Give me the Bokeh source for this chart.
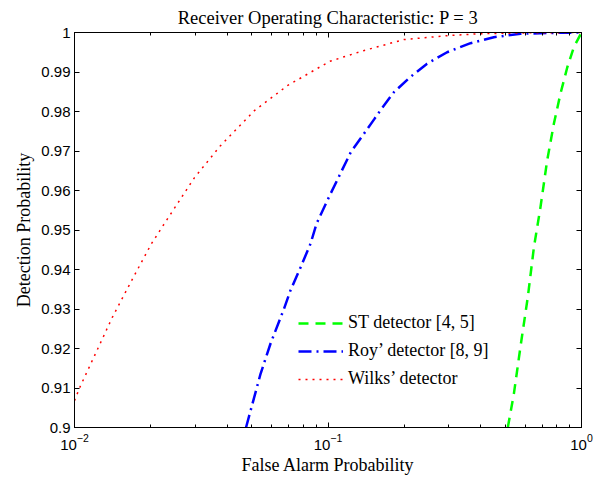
from bokeh.plotting import figure
from bokeh.models import FixedTicker, LogAxis, LinearAxis, CustomJSTickFormatter
from bokeh.embed import file_html
from bokeh.resources import INLINE

# ---------------- data ----------------
wilks_x = [0.01, 0.0105, 0.012, 0.0141, 0.0168, 0.0201, 0.0232, 0.0297, 0.0376,
           0.0512, 0.0694, 0.1016, 0.138, 0.199, 0.295, 0.40, 0.6, 1.0]
wilks_y = [0.9068, 0.9102, 0.9182, 0.9279, 0.9372, 0.9465, 0.9527, 0.9632, 0.9713,
           0.9802, 0.9866, 0.9927, 0.9954, 0.9982, 0.9992, 0.9997, 0.9999, 1.0]

roy_x = [0.0475, 0.0542, 0.0593, 0.0670, 0.0711, 0.078, 0.0853, 0.0901, 0.1008, 0.123,
         0.152, 0.161, 0.182, 0.211, 0.246, 0.295, 0.365, 0.451, 0.575, 0.78, 1.0]
roy_y = [0.9, 0.9136, 0.9212, 0.9300, 0.9347, 0.9406, 0.9465, 0.9516, 0.9583, 0.9697,
         0.978, 0.9803, 0.9849, 0.9887, 0.9921, 0.9950, 0.9973, 0.9988, 0.9997, 0.9999, 1.0]

st_x = [0.512, 0.541, 0.574, 0.614, 0.649, 0.689, 0.732, 0.778, 0.826, 0.879, 0.933, 1.0]
st_y = [0.9, 0.9085, 0.9203, 0.933, 0.9456, 0.9558, 0.9676, 0.9769, 0.9845, 0.9912, 0.9963, 1.0]

x_major = [0.01, 0.1, 1.0]
x_minor = [0.02, 0.03, 0.04, 0.05, 0.06, 0.07, 0.08, 0.09,
           0.2, 0.3, 0.4, 0.5, 0.6, 0.7, 0.8, 0.9]
y_ticks = [0.90, 0.91, 0.92, 0.93, 0.94, 0.95, 0.96, 0.97, 0.98, 0.99, 1.0]

title_text = "Receiver Operating Characteristic: P = 3"
x_label = "False Alarm Probability"
y_label = "Detection Probability"
labels = ["ST detector [4, 5]", "Roy\u2019 detector [8, 9]", "Wilks\u2019 detector"]

SERIF = "Liberation Serif"
SANS = "Liberation Sans"

p = figure(width=605, height=478, x_axis_type="log", x_range=(0.01, 1.0), y_range=(0.9, 1.0),
           output_backend="svg", toolbar_location=None,
           min_border_left=74, min_border_right=24, min_border_top=32, min_border_bottom=51)

p.title.text = title_text
p.title.text_font = SERIF
p.title.text_font_size = "18.5px"
p.title.text_font_style = "normal"
p.title.text_color = "black"
p.title.align = "center"

p.xgrid.visible = False
p.ygrid.visible = False
p.outline_line_color = "black"
p.outline_line_width = 1
p.background_fill_color = "white"
p.border_fill_color = "white"

xt = FixedTicker(ticks=x_major, minor_ticks=x_minor)
yt = FixedTicker(ticks=y_ticks, minor_ticks=[])
yfmt = CustomJSTickFormatter(code="return String(Number(tick.toFixed(2)));")

xa = p.xaxis[0]
xa.ticker = xt
ya = p.yaxis[0]
ya.ticker = yt
ya.formatter = yfmt

for ax in (xa, ya):
    ax.major_tick_in = 5
    ax.major_tick_out = 0
    ax.minor_tick_in = 3
    ax.minor_tick_out = 0
    ax.axis_line_color = "black"
    ax.major_tick_line_color = "black"
    ax.minor_tick_line_color = "black"
    ax.major_label_text_font = SANS
    ax.major_label_text_font_size = "15px"
    ax.major_label_text_color = "black"
    ax.axis_label_text_font = SERIF
    ax.axis_label_text_font_size = "18px"
    ax.axis_label_text_font_style = "normal"
    ax.axis_label_text_color = "black"

xa.axis_label = x_label
ya.axis_label = y_label
xa.major_label_standoff = 6
xa.axis_label_standoff = 2
ya.major_label_standoff = 4
ya.axis_label_standoff = 4

empty = CustomJSTickFormatter(code="return '';")
top = LogAxis(ticker=xt, formatter=empty, major_tick_in=5, major_tick_out=0,
              minor_tick_in=3, minor_tick_out=0, major_label_standoff=0,
              major_tick_line_color="black", minor_tick_line_color="black")
right = LinearAxis(ticker=yt, formatter=empty, major_tick_in=5, major_tick_out=0,
                   minor_tick_in=0, minor_tick_out=0, major_label_standoff=0,
                   major_tick_line_color="black")
p.add_layout(top, "above")
p.add_layout(right, "right")

p.line(st_x, st_y, color="#00ff00", line_width=2.5, line_dash="10 7", legend_label=labels[0])
p.line(roy_x, roy_y, color="#0000ff", line_width=2.5, line_dash="13 5 2 5", legend_label=labels[1])
p.line(wilks_x, wilks_y, color="#ff0000", line_width=1.5, line_dash="2 5", legend_label=labels[2])

p.legend.location = (224, 38)
p.legend.border_line_color = None
p.legend.background_fill_alpha = 0
p.legend.label_text_font = "'Liberation Serif', 'Times New Roman', Times, serif"
p.legend.label_text_font_size = "18px"
p.legend.label_text_font_style = "normal"
p.legend.label_text_color = "black"
p.legend.glyph_width = 45
p.legend.glyph_height = 20
p.legend.label_height = 20
p.legend.spacing = 7
p.legend.padding = 0
p.legend.margin = 0
p.legend.label_standoff = 5

open("out.html", "w").write(file_html(p, INLINE))
